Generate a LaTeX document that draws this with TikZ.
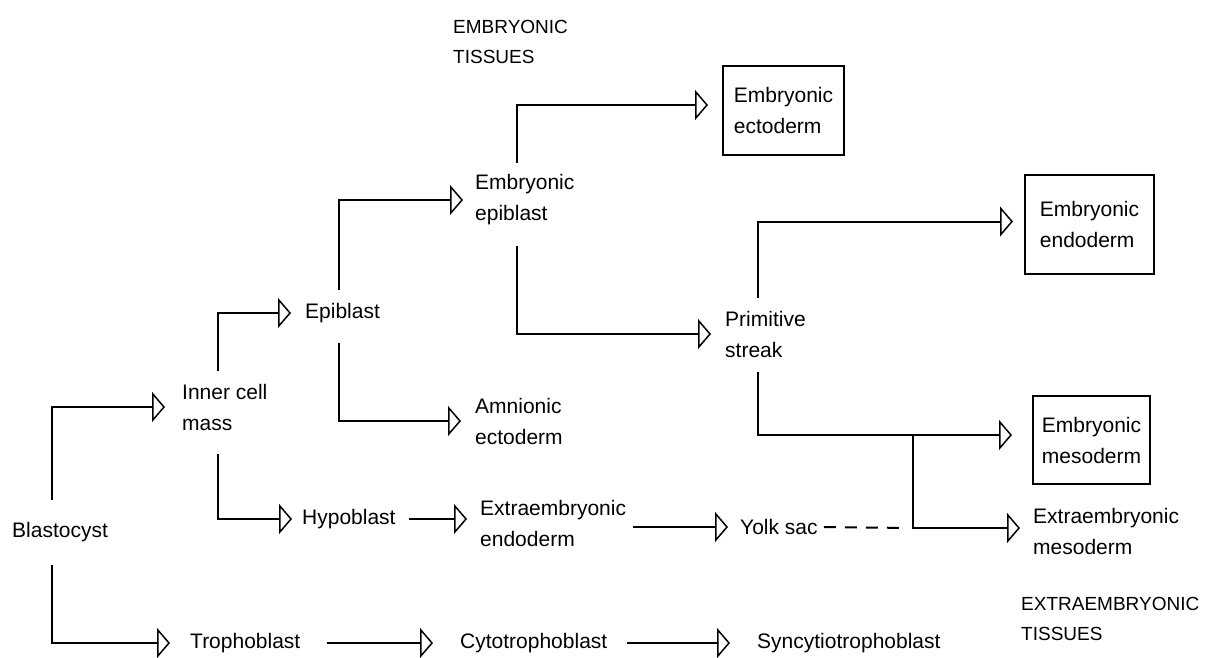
\documentclass[tikz,border=0pt]{standalone}
\usepackage{fontspec}
\setmainfont{Liberation Sans}
\usetikzlibrary{arrows.meta}

\tikzset{
  lbl/.style={anchor=west,align=left,inner sep=0pt,font=\fontsize{21}{31}\selectfont},
  caps/.style={lbl,font=\fontsize{19}{30}\selectfont},
  tissue/.style={draw,line width=2pt,anchor=north west,align=left,inner sep=0pt,font=\fontsize{21}{31}\selectfont},
  flow/.style={->,line width=2pt,shorten >=14pt},
  link/.style={line width=2pt,dash pattern=on 12pt off 9pt},
}

\begin{document}
\begin{tikzpicture}[x=1pt,y=-1pt,>={Triangle[open,length=13pt,width=30pt,line width=1.5pt]},line join=miter]
\useasboundingbox (0,0) rectangle (1205,657);
%%
\node (blast) at (12,532) [lbl] {Blastocyst};
  \node (icm) at (182,407) [lbl] {Inner cell\\mass};
  \node (epi) at (305,313) [lbl] {Epiblast};
  \node (hypo) at (302,519) [lbl] {Hypoblast};
  \node (embepi) at (475,200) [lbl] {Embryonic\\epiblast};
  \node (amnect) at (475,421) [lbl] {Amnionic\\ectoderm};
  \node (exendo) at (480,523) [lbl] {Extraembryonic\\endoderm};
  \node (yolk) at (740,527) [lbl] {Yolk sac};
  \node (primstr) at (725,334) [lbl] {Primitive\\streak};
  \node (exmeso) at (1033,531) [lbl] {Extraembryonic\\mesoderm};
  \node (tropho) at (190,643) [lbl] {Trophoblast};
  \node (cyto) at (460,643) [lbl] {Cytotrophoblast};
  \node (syncy) at (757,643) [lbl] {Syncytiotrophoblast};
  \node (embect) at (722,65) [tissue,minimum width=121pt,minimum height=89pt] {Embryonic\\ectoderm};
  \node (embendo) at (1024,174) [tissue,minimum width=129pt,minimum height=99pt] {Embryonic\\endoderm};
  \node (embmeso) at (1032,395) [tissue,minimum width=117pt,minimum height=88pt] {Embryonic\\mesoderm};
  \node (embtis) at (453,42) [caps] {EMBRYONIC\\TISSUES};
  \node (extis) at (1021,619) [caps] {EXTRAEMBRYONIC\\TISSUES};
  \coordinate (br) at (913,434);
  \coordinate (jn) at (913,528);
%
  \draw [flow,shorten <=22pt,shorten >=17pt] ([xshift=40pt]blast.north west) |- (icm.west);
  \draw [flow,shorten <=23pt,shorten >=20pt] ([xshift=40pt]blast.south west) |- (tropho.west);
  \draw [flow,shorten <=13pt] ([xshift=36pt]icm.north west) |- (epi.west);
  \draw [flow,shorten <=24pt,shorten >=10pt] ([xshift=36pt]icm.south west) |- (hypo.west);
  \draw [flow,shorten <=13pt,shorten >=12pt] ([xshift=34pt]epi.north west) |- (embepi.west);
  \draw [flow,shorten <=20pt] ([xshift=34pt]epi.south west) |- (amnect.west);
  \draw [flow,shorten <=12pt] ([xshift=42pt]embepi.north west) |- ([yshift=5.5pt]embect.west);
  \draw [flow,shorten <=21pt] ([xshift=42pt]embepi.south west) |- (primstr.west);
  \draw [flow,shorten <=13pt,shorten >=11pt] ([xshift=33pt]primstr.north west) |- ([yshift=3pt]embendo.west);
  \draw [flow,shorten <=15pt,shorten >=20pt] ([xshift=33pt]primstr.south west) |- ([yshift=5pt]embmeso.west);
  \draw [flow,shorten >=13pt] (br) |- (jn -| exmeso.west);
  \draw [link,shorten <=6pt,shorten >=6pt] (yolk.east) -- (jn);
  \draw [flow,shorten <=13pt,shorten >=13pt] (hypo.east) -- (hypo.east -| exendo.west);
  \draw [flow,shorten <=7pt,shorten >=12pt] (yolk.west -| exendo.east) -- (yolk.west);
  \draw [flow,shorten <=26pt,shorten >=27pt] (tropho.east) -- (cyto.west);
  \draw [flow,shorten <=20pt,shorten >=27pt] (cyto.east) -- (syncy.west);
%
\end{tikzpicture}
\end{document}
